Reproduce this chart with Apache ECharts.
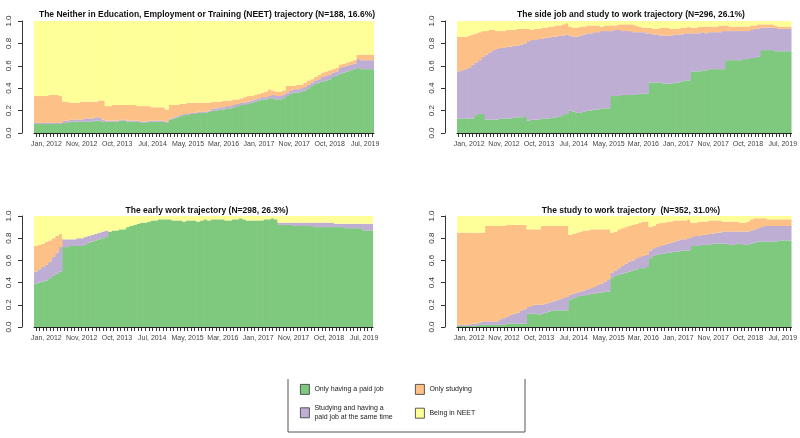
<!DOCTYPE html>
<html>
<head>
<meta charset="utf-8">
<script src="https://cdn.jsdelivr.net/npm/echarts@6/dist/echarts.min.js"></script>
<style>html,body{margin:0;padding:0;background:#fff;}#c{width:800px;height:438px;}</style>
</head>
<body>
<div id="c"></div>
<script>
// ---- categories / ticks ----
const nPeriods = 96;
const tickLabels = ['Jan, 2012','Nov, 2012','Oct, 2013','Jul, 2014','May, 2015','Mar, 2016','Jan, 2017','Nov, 2017','Oct, 2018','Jul, 2019'];
const firstTick = 3, tickStep = 10;
const yTicks = [0, 0.2, 0.4, 0.6, 0.8, 1.0];

const stateNames = ['Only having a paid job','Studying and having a paid job at the same time','Only studying','Being in NEET'];
const stateColors = ['#7FC97F','#BEAED4','#FDC086','#FFFF99'];

const panelTitles = [
  'The Neither in Education, Employment or Training (NEET) trajectory (N=188, 16.6%)',
  'The side job and study to work trajectory (N=296, 26.1%)',
  'The early work trajectory (N=298, 26.3%)',
  'The study to work trajectory  (N=352, 31.0%)'
];

// ---- Panel 1: NEET trajectory ----
const neetJob = [.08,.08,.08,.08,.08,.08,.08,.08, .09,.09,.10,.10,.10,.10,.10,.10,.10,.11,.11,.10, .10,.10,.10,.10,.11,.11,.10,.10,.10, .10,.09,.09,.10, .10,.10,.10,.10,.09, .12,.13,.14, .15,.16,.16,.17, .17,.18,.18,.18,.19, .20,.20,.21,.21,.22,.22, .23,.24,.25,.25,.26, .27,.28,.29,.30,.30,.31, .31,.30,.30,.31, .33,.35,.36,.36,.37, .38,.40,.42,.44,.45, .46,.47,.48,.50,.51, .53,.54,.55,.56,.57, .58,.57,.57,.57,.57];
const neetBoth = [.01,.01,.01,.01,.01,.01,.01,.01, .02,.02,.02,.02,.02,.02,.03,.03,.03,.03,.03,.02, .01,.01,.01,.01,.01,.01,.01,.01,.01, .01,.01,.01,.01, .01,.01,.01,.01,.01, .01,.01,.01, .01,.01,.01,.01, .01,.01,.01,.01,.01, .02,.02,.02,.02,.02,.02, .02,.02,.02,.02,.02, .02,.02,.02,.02,.02,.02, .03,.03,.03,.03, .03,.03,.03,.03,.03, .03,.03,.03,.03,.03, .04,.04,.04,.04,.04, .05,.05,.05,.05,.05, .08,.08,.08,.08,.08];
const neetStudy = [.24,.24,.24,.24,.25,.25,.25,.24, .17,.17,.15,.15,.15,.16,.15,.15,.15,.14,.15,.17, .13,.13,.14,.14,.13,.13,.14,.14,.14, .13,.14,.14,.13, .12,.12,.12,.12,.11, .12,.11,.10, .10,.09,.10,.09, .09,.08,.08,.08,.07, .06,.06,.05,.06,.05,.05, .05,.04,.04,.05,.05, .04,.04,.04,.04,.05,.06, .04,.04,.04,.04, .06,.04,.03,.04,.03, .04,.04,.03,.03,.04, .04,.04,.04,.03,.03, .03,.03,.03,.03,.03, .04,.05,.05,.05,.05];
const neetNeet = [.67,.67,.67,.67,.66,.66,.66,.67, .72,.72,.73,.73,.73,.72,.72,.72,.72,.72,.71,.71, .76,.76,.75,.75,.75,.75,.75,.75,.75, .76,.76,.76,.76, .77,.77,.77,.77,.79, .75,.75,.75, .74,.74,.73,.73, .73,.73,.73,.73,.73, .72,.72,.72,.71,.71,.71, .70,.70,.69,.68,.67, .67,.66,.65,.64,.63,.61, .62,.63,.63,.62, .58,.58,.58,.57,.57, .55,.53,.52,.50,.48, .46,.45,.44,.43,.42, .39,.38,.37,.36,.35, .30,.30,.30,.30,.30];

// ---- Panel 2: side job and study to work ----
const sideJob = [.13,.13,.13,.13,.13, .16,.17,.17, .12,.12,.12,.12,.13,.13,.13,.13,.14, .14,.14,.15, .11,.12,.12,.12,.13,.13,.13,.14,.14, .15,.16,.17, .20,.19,.18,.18, .19,.20,.20,.21,.21,.22,.22,.22, .33,.33,.33,.34,.34,.34,.34,.34,.35,.35,.35, .45,.45,.45,.45,.44,.44,.44,.45,.45,.46,.47, .47, .55,.55,.55,.56,.56,.57,.57,.57,.57,.57, .65,.65,.65,.65,.65,.66,.66,.67,.67,.68, .74,.74,.74,.74,.73,.73,.73,.73,.73];
const sideBoth = [.42,.43,.44,.45,.48, .47,.48,.51, .58, .60,.62,.63,.63, .63,.64,.64,.64, .64,.65, .65, .71,.71,.71,.72, .71,.72,.72,.72,.72, .72,.71, .71, .67,.67,.68,.69, .69,.69,.69,.69,.69,.69,.69,.69, .58,.59,.59,.57,.57,.57,.56,.56,.55, .55,.54, .44,.43,.43,.42,.43,.43, .43,.43,.43,.42,.42, .42, .34,.34,.34,.34, .33,.33,.33,.33,.33,.34, .26,.26,.26,.26, .26,.25,.25,.25,.26,.25, .20, .20,.20,.20, .21, .20,.20,.20,.20];
const sideStudy = [.31,.30,.29,.29,.27,.26, .25,.23,.21, .20, .18,.16,.15, .15,.15,.15,.14,.15,.14, .13,.11,.09,.10,.09, .10, .09,.10,.09,.10,.09,.10, .10, .08,.08,.08,.08, .07, .07,.07,.06,.06,.04,.05,.05, .05,.04,.05,.06,.06,.06,.07,.06, .05, .04,.05,.05,.05,.05,.07, .07,.07, .06,.05,.05,.06,.05,.06, .05,.05,.06,.05, .06,.05,.05,.05,.06,.05, .05,.04,.04,.04, .04,.04,.04,.04,.03, .04,.03, .03,.03,.03, .02, .02,.02,.02,.02];
const sideNeet = [.14,.14,.14, .13,.12,.11, .10,.09,.09,.08, .08,.09,.09,.09,.08,.08,.08,.07,.07, .07,.07,.08,.07,.07,.06, .06,.05,.05,.04,.04,.03,.02, .05,.06,.06,.05,.05, .04,.04,.04,.04,.05,.04,.04, .04,.04,.03,.03,.03,.03,.03,.04, .05,.06,.06,.06,.07,.07,.06, .06,.06,.07,.07,.07,.06,.06,.05, .06,.06,.05,.05,.05,.05,.05,.05,.04,.04, .04,.05,.05,.05,.05,.05,.05,.04,.04, .03,.03,.03,.03,.03,.04,.05,.05,.05,.05];

// ---- Panel 3: early work ----
const earlyJob = [.39,.40,.41,.42,.44,.46,.48,.50, .72,.72,.73,.73,.73,.73,.74, .76,.77,.78,.79,.80,.81, .86,.87,.87,.88,.88, .90,.91,.92,.93,.94,.94, .95,.96,.96,.97,.97,.97, .97,.96,.96,.96,.95,.96,.96,.96,.95,.96,.97,.96,.97,.97,.97,.97,.96,.96,.97,.97,.98,.97,.96,.96,.96,.96,.96,.97,.97,.98,.97, .92,.92,.92,.92,.91,.91,.91,.91,.91,.91,.90,.90, .90,.90,.90,.90,.90,.90,.90,.89,.89,.89,.89,.89, .87,.87,.87];
const earlyBoth = [.11,.12,.13,.14,.15,.17,.19,.22, .07,.07,.06,.06,.07,.07,.07, .06,.06,.06,.06,.06,.06, 0,0,0,0,0, 0,0,0,0,0,0, 0,0,0,0,0,0, 0,0,0,0,0,0,0,0,0,0,0,0,0,0,0,0,0,0,0,0,0,0,0,0,0,0,0,0,0,0,0, .02,.02,.02,.02,.03,.03,.03,.03,.03,.03,.04,.04, .04,.04,.04,.04,.03,.03,.03,.04,.04,.04,.04,.04, .06,.06,.06];
const earlyStudy = [.23,.22,.21,.21,.19,.17,.15,.12, 0,0,0,0,0,0,0, 0,0,0,0,0,0, 0,0,0,0,0, 0,0,0,0,0,0, 0,0,0,0,0,0, 0,0,0,0,0,0,0,0,0,0,0,0,0,0,0,0,0,0,0,0,0,0,0,0,0,0,0,0,0,0,0, 0,0,0,0,0,0,0,0,0,0,0,0, 0,0,0,0,0,0,0,0,0,0,0,0, 0,0,0];
const earlyNeet = [.27,.26,.25,.23,.22,.20,.18,.16, .21,.21,.21,.21,.20,.20,.19, .18,.17,.16,.15,.14,.13, .14,.13,.13,.12,.12, .10,.09,.08,.07,.06,.06, .05,.04,.04,.03,.03,.03, .03,.04,.04,.04,.05,.04,.04,.04,.05,.04,.03,.04,.03,.03,.03,.03,.04,.04,.03,.03,.02,.03,.04,.04,.04,.04,.04,.03,.03,.02,.03, .06,.06,.06,.06,.06,.06,.06,.06,.06,.06,.06,.06, .06,.06,.06,.06,.07,.07,.07,.07,.07,.07,.07,.07, .07,.07,.07];

// ---- Panel 4: study to work ----
const studyJob = [.01,.01,.01,.01,.01,.01,.02,.02,.02,.02,.02, .02,.02,.02,.03,.03,.03,.03,.03,.03, .12,.12,.12,.11,.12,.13, .14,.15,.15,.15,.15,.15, .25,.26,.27,.28,.28,.29,.30, .30,.31,.31,.32,.32, .44,.46,.47,.48,.49,.50,.51,.52,.53,.53, .54, .62,.64,.65,.66,.66,.67,.67,.68, .68,.69,.69,.69, .73,.73,.73,.74,.74,.74,.75,.75,.75, .75,.75,.74,.74,.75,.75,.74,.74,.75, .76,.77,.77,.77,.77,.77,.77,.78,.78,.78,.78];
const studyBoth = [.01,.01,.01,.01,.02,.02, .02,.03,.03,.03,.03, .03, .05,.06,.06,.08,.09,.10,.12,.13, .06,.07,.08,.09,.08,.08, .08,.08,.09,.10,.11,.12, .04,.04,.04,.04,.05,.05,.05, .06,.07,.08,.09,.11, .05,.05,.06,.07,.08,.09,.09,.10,.10,.11, .11, .07,.07,.07,.07,.08,.08,.09,.09, .10,.10,.10,.11, .08,.09,.09,.09,.09,.10,.09,.10,.10, .11,.11,.12,.12,.11,.11,.12,.12,.12, .12,.12,.13,.14,.14,.14,.14,.13,.13,.13,.13];
const studyStudy = [.83,.83,.83,.83,.82,.82, .81,.80, .86,.86,.86,.86, .84,.83, .83,.81,.80,.79,.77,.76, .70,.69,.68,.68, .71,.70, .69,.68,.67,.66,.65,.64, .54,.54,.54,.54, .54,.53,.53, .52,.50,.49,.47,.45, .36,.35,.35,.34,.33,.32,.32,.31,.31,.31,.30, .21,.20,.21,.21,.20,.20,.19,.19, .18,.17,.17,.17, .13,.12,.13,.12,.12,.12,.12,.11,.11, .09,.09,.09,.09,.09,.08,.08,.09,.10, .10,.09,.08,.07,.06,.06,.06,.06,.06,.06,.06];
const studyNeet = [.15,.15,.15,.15,.15,.15,.15,.15, .09,.09,.09,.09,.09,.09,.08,.08,.08,.08,.08,.08, .12,.12,.12,.12, .09,.09,.09,.09,.09,.09,.09,.09, .17,.16,.15,.14, .13,.13,.12,.12,.12,.12,.12,.12, .15,.14,.12,.11,.10,.09,.08,.07,.06,.05,.05, .10,.09,.07,.06,.06,.05,.05,.04, .04,.04,.04,.03, .06,.06,.05,.05,.05,.04,.04,.04,.04, .05,.05,.05,.05,.05,.06,.06,.05,.03, .02,.02,.02,.02,.03,.03,.03,.03,.03,.03,.03];

const panelData = [
  [neetJob, neetBoth, neetStudy, neetNeet],
  [sideJob, sideBoth, sideStudy, sideNeet],
  [earlyJob, earlyBoth, earlyStudy, earlyNeet],
  [studyJob, studyBoth, studyStudy, studyNeet]
];

// categories: one per monthly period; only some carry a printed label
const categories = [];
for (let i = 0; i < nPeriods; i++) {
  const k = (i - firstTick) / tickStep;
  categories.push(Number.isInteger(k) && k >= 0 && k < tickLabels.length ? tickLabels[k] : 'p' + i);
}

const grids = [
  {left: 34, top: 21, width: 340, height: 112},
  {left: 457, top: 21, width: 339, height: 112},
  {left: 34, top: 216, width: 339, height: 111},
  {left: 457, top: 216, width: 339, height: 111}
];
const titlePos = [{x: 202, y: 5}, {x: 626, y: 5}, {x: 202, y: 201}, {x: 626, y: 201}];

const FONT = 'Liberation Sans, Arial, sans-serif';
const xAxes = [], yAxes = [], series = [], titles = [];
grids.forEach((g, p) => {
  titles.push({
    text: panelTitles[p], left: titlePos[p].x, top: titlePos[p].y, textAlign: 'center',
    textStyle: {fontSize: 8.5, fontWeight: 'bold', color: '#111', fontFamily: FONT}
  });
  xAxes.push({
    type: 'category', gridIndex: p, data: categories, boundaryGap: true, offset: 2,
    axisLine: {show: true, lineStyle: {color: '#222', width: 1}},
    axisTick: {show: true, interval: 0, alignWithLabel: true, length: 4, lineStyle: {color: '#222', width: 0.9}},
    axisLabel: {
      interval: (i) => (i - firstTick) % tickStep === 0 && i >= firstTick,
      fontSize: 7, color: '#444', margin: 6, fontFamily: FONT
    },
    splitLine: {show: false}
  });
  yAxes.push({
    type: 'value', gridIndex: p, min: 0, max: 1, interval: 0.2, offset: 12,
    axisLine: {show: true, lineStyle: {color: '#333', width: 1}},
    axisTick: {show: true, length: 4, lineStyle: {color: '#333'}},
    axisLabel: {rotate: 90, fontSize: 8, color: '#333', margin: 9, fontFamily: FONT,
      formatter: (v) => yTicks.some(t => Math.abs(t - v) < 1e-9) ? v.toFixed(1) : ''},
    splitLine: {show: false}
  });
  panelData[p].forEach((vals, s) => {
    series.push({
      type: 'bar', name: stateNames[s], xAxisIndex: p, yAxisIndex: p, stack: 'panel' + p,
      data: vals, barWidth: 4.2,
      itemStyle: {color: stateColors[s], borderWidth: 0},
      emphasis: {disabled: true}, silent: true, animation: false
    });
  });
});

const legendText = {fontSize: 7, color: '#222', lineHeight: 9, fontFamily: FONT};
const legendFmt = (n) => n === stateNames[1] ? 'Studying and having a\npaid job at the same time' : n;
const option = {
  animation: false,
  backgroundColor: '#fff',
  title: titles,
  grid: grids,
  xAxis: xAxes,
  yAxis: yAxes,
  series: series,
  legend: [
    {orient: 'vertical', left: 300, top: 384, padding: 0, itemWidth: 9, itemHeight: 10, itemGap: 9,
     icon: 'rect', selectedMode: false, data: [stateNames[0], stateNames[1]], formatter: legendFmt,
     textStyle: legendText, itemStyle: {borderColor: '#333', borderWidth: 0.8}},
    {orient: 'vertical', left: 415, top: 384, padding: 0, itemWidth: 9, itemHeight: 10, itemGap: 13,
     icon: 'rect', selectedMode: false, data: [stateNames[2], stateNames[3]], formatter: legendFmt,
     textStyle: legendText, itemStyle: {borderColor: '#333', borderWidth: 0.8}}
  ],
  graphic: [{
    type: 'polyline', silent: true,
    shape: {points: [[288, 379], [288, 432], [525, 432], [525, 379]]},
    style: {stroke: '#555', lineWidth: 1, fill: null}
  }]
};
const chart = echarts.init(document.getElementById('c'), null, {renderer: 'canvas'});
chart.setOption(option);
</script>
</body>
</html>
